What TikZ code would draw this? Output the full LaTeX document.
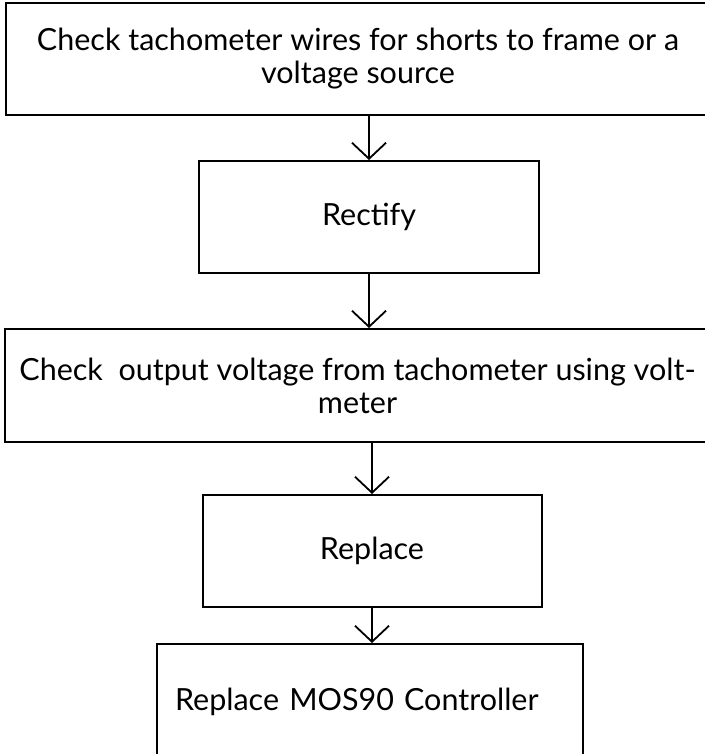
\documentclass[tikz,border=0pt]{standalone}
\usepackage{fontspec}
\setmainfont{Lato}
\usetikzlibrary{arrows.meta}
\begin{document}
\begin{tikzpicture}[x=1pt,y=-1pt,
  stepbox/.style={draw=black, line width=2pt, inner sep=0pt, align=center,
    font=\fontsize{30.5}{33}\selectfont},
  flow/.style={draw=black, line width=1.8pt, -{Straight Barb[length=16pt,width=34pt,line width=1.8pt]}}]
\useasboundingbox (0,0) rectangle (704,754);
\node[stepbox, minimum width=704pt, minimum height=112pt] (n1) at (358,59)
  {Check tachometer wires for shorts to frame or a\\voltage source};
\node[stepbox, minimum width=340pt, minimum height=112pt] (n2) at (369,217) {Rectify};
\node[stepbox, minimum width=705pt, minimum height=113pt] (n3) at (357.5,385.5)
  {Check\ \ output voltage from tachometer using volt-\\meter};
\node[stepbox, minimum width=339pt, minimum height=112pt] (n4) at (372,551) {Replace};
\node[stepbox, minimum width=426pt, minimum height=116pt, text width=390pt, align=left] (n5) at (370,702)
  {Replace MOS90 Controller};
\draw[flow] (n2.north |- n1.south) -- (n2.north);
\draw[flow] (n2.south) -- (n2.south |- n3.north);
\draw[flow] (n4.north |- n3.south) -- (n4.north);
\draw[flow] (n4.south) -- (n4.south |- n5.north);
\end{tikzpicture}
\end{document}
